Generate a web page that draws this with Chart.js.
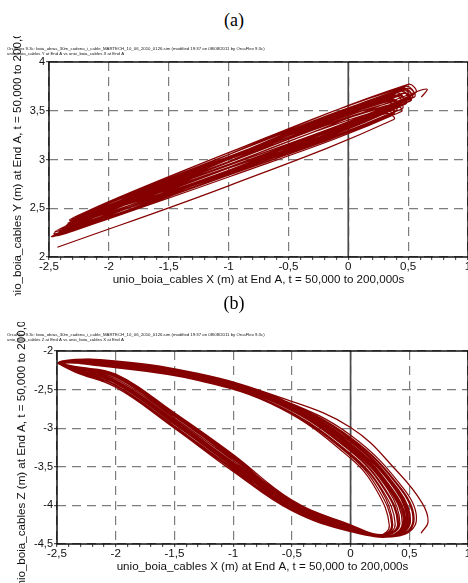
<!DOCTYPE html>
<html>
<head>
<meta charset="utf-8">
<script src="https://cdn.jsdelivr.net/npm/chart.js@4"></script>
<style>
  html, body { margin: 0; padding: 0; background: #fff; width: 468px; height: 583px; overflow: hidden; }
  .box { position: absolute; left: 0; width: 480px; }
  .lbl { position: absolute; left: 0; width: 468px; text-align: center; line-height: 20px;
         font-family: "Liberation Serif", "Times New Roman", serif; font-size: 18px; color: #000; }
</style>
</head>
<body>
<div class="box" style="top:36px;height:260px"><canvas id="chartA"></canvas></div>
<div class="box" style="top:322px;height:261px"><canvas id="chartB"></canvas></div>
<div class="lbl" style="top:10px">(a)</div>
<div class="lbl" style="top:293px">(b)</div>
<script>
// x ticks (shared by both panels)
const xTickVals = [-2.5, -2, -1.5, -1, -0.5, 0, 0.5, 1];
const xTickLabels = ['-2,5', '-2', '-1,5', '-1', '-0,5', '0', '0,5', '1'];

// panel (a): Y vs X at End A
const yTickValsA = [2, 2.5, 3, 3.5, 4];
const yTickLabelsA = ['2', '2,5', '3', '3,5', '4'];
const xA = [
  -2.43, -1.0, 0.38, 0.31, -1.0,
  -2.47, -1.0, 0.44, 0.37, -1.0,
  -2.40, -1.0, 0.50, 0.44, -1.0,
  -2.33, -1.0, 0.36, 0.30, -1.0,
  -2.44, -1.0, 0.54, 0.48, -1.0,
  -2.28, -1.0, 0.42, 0.36, -1.0,
  -2.36, -1.0, 0.52, 0.47, -1.0,
  -2.45, -1.0, 0.47, 0.41, -1.0,
  -2.30, -1.0, 0.56, 0.50, -1.0,
  -2.38, -1.0, 0.40, 0.34, -1.0,
  -2.25, -1.0, 0.50, 0.45, -1.0,
  -2.42, -1.0, 0.45, 0.39, -1.0,
  -2.34, -1.0, 0.53, 0.47, -1.0,
  -2.46, -1.0, 0.38, 0.33, -1.0,
  -2.40, -1.0, 0.48, 0.42, -1.0,
  -2.27, -1.0, 0.44, 0.38, -1.0,
  -2.44, -1.0, 0.51, 0.45, -1.0,
  -2.35, -1.0, 0.41, 0.35, -1.0,
  -2.48, -1.0, 0.55, 0.49, -1.0,
  -2.29, -1.0, 0.46, 0.40, -1.0,
  -2.39, -1.0, 0.37, 0.31, -1.0,
  -2.32, -1.0, 0.52, 0.46, -1.0,
  -2.43, -1.0, 0.43, 0.37, -1.0,
  -2.26, -1.0, 0.49, 0.44, -1.0,
  -2.31, -1.0, 0.58, 0.66, 0.61
];
const yA = [
  2.10, 2.73, 3.41, 3.47, 2.91,
  2.21, 2.82, 3.49, 3.57, 2.97,
  2.27, 2.88, 3.62, 3.70, 3.05,
  2.38, 2.87, 3.45, 3.52, 2.95,
  2.24, 2.89, 3.66, 3.75, 3.07,
  2.40, 2.91, 3.55, 3.62, 3.01,
  2.32, 2.89, 3.60, 3.68, 3.00,
  2.26, 2.88, 3.58, 3.66, 3.02,
  2.36, 2.92, 3.68, 3.77, 3.05,
  2.30, 2.86, 3.50, 3.58, 3.02,
  2.42, 2.94, 3.64, 3.72, 3.02,
  2.25, 2.84, 3.52, 3.60, 3.00,
  2.35, 2.91, 3.63, 3.71, 3.01,
  2.24, 2.84, 3.47, 3.55, 2.98,
  2.29, 2.87, 3.57, 3.65, 3.03,
  2.41, 2.92, 3.58, 3.66, 3.00,
  2.22, 2.85, 3.60, 3.68, 3.02,
  2.33, 2.88, 3.53, 3.61, 2.98,
  2.21, 2.87, 3.64, 3.73, 3.05,
  2.38, 2.91, 3.60, 3.68, 3.02,
  2.28, 2.84, 3.48, 3.55, 3.00,
  2.37, 2.92, 3.65, 3.73, 3.02,
  2.24, 2.85, 3.54, 3.61, 3.02,
  2.41, 2.92, 3.62, 3.70, 3.05,
  2.39, 2.95, 3.70, 3.72, 3.64
];

// panel (b): Z vs X at End A
const yTickValsB = [-4.5, -4, -3.5, -3, -2.5, -2];
const yTickLabelsB = ['-4,5', '-4', '-3,5', '-3', '-2,5', '-2'];
const xB = [
  -2.48, -2.15, -1.3, -0.6, 0, 0.36, 0.47, 0.35, 0, -0.5, -1.0, -1.5, -2.0, -2.35,
  -2.47, -2.15, -1.3, -0.6, 0, 0.44, 0.54, 0.40, 0, -0.5, -1.0, -1.5, -2.0, -2.35,
  -2.49, -2.15, -1.3, -0.6, 0, 0.29, 0.40, 0.30, 0, -0.5, -1.0, -1.5, -2.0, -2.35,
  -2.48, -2.15, -1.3, -0.6, 0, 0.46, 0.56, 0.42, 0, -0.5, -1.0, -1.5, -2.0, -2.35,
  -2.47, -2.15, -1.3, -0.6, 0, 0.34, 0.45, 0.33, 0, -0.5, -1.0, -1.5, -2.0, -2.35,
  -2.48, -2.15, -1.3, -0.6, 0, 0.24, 0.35, 0.27, 0, -0.5, -1.0, -1.5, -2.0, -2.35,
  -2.49, -2.15, -1.3, -0.6, 0, 0.41, 0.51, 0.38, 0, -0.5, -1.0, -1.5, -2.0, -2.35,
  -2.48, -2.15, -1.3, -0.6, 0, 0.32, 0.42, 0.32, 0, -0.5, -1.0, -1.5, -2.0, -2.35,
  -2.47, -2.15, -1.3, -0.6, 0, 0.39, 0.49, 0.37, 0, -0.5, -1.0, -1.5, -2.0, -2.35,
  -2.48, -2.15, -1.3, -0.6, 0, 0.22, 0.33, 0.25, 0, -0.5, -1.0, -1.5, -2.0, -2.35,
  -2.48, -2.15, -1.3, -0.6, 0, 0.38, 0.48, 0.36, 0, -0.5, -1.0, -1.5, -2.0, -2.35,
  -2.48, -2.15, -1.3, -0.6, 0, 0.27, 0.38, 0.29, 0, -0.5, -1.0, -1.5, -2.0, -2.35,
  -2.48, -2.15, -1.3, -0.6, 0, 0.43, 0.53, 0.39, 0, -0.5, -1.0, -1.5, -2.0, -2.35,
  -2.47, -2.15, -1.3, -0.6, 0, 0.33, 0.44, 0.33, 0, -0.5, -1.0, -1.5, -2.0, -2.35,
  -2.48, -2.15, -1.3, -0.6, 0, 0.40, 0.50, 0.37, 0, -0.5, -1.0, -1.5, -2.0, -2.35,
  -2.49, -2.15, -1.3, -0.6, 0, 0.26, 0.36, 0.28, 0, -0.5, -1.0, -1.5, -2.0, -2.35,
  -2.48, -2.15, -1.3, -0.6, 0, 0.35, 0.46, 0.34, 0, -0.5, -1.0, -1.5, -2.0, -2.35,
  -2.47, -2.15, -1.3, -0.6, 0, 0.30, 0.41, 0.31, 0, -0.5, -1.0, -1.5, -2.0, -2.35,
  -2.48, -2.13, -1.3, -0.6, 0, 0.41, 0.61, 0.66, 0.60
];
const yB = [
  -2.15, -2.14, -2.33, -2.67, -3.21, -3.80, -4.22, -4.39, -4.30, -4.00, -3.46, -2.92, -2.40, -2.23,
  -2.16, -2.12, -2.30, -2.63, -3.12, -3.80, -4.21, -4.40, -4.33, -4.06, -3.54, -2.99, -2.45, -2.26,
  -2.15, -2.16, -2.35, -2.70, -3.30, -3.80, -4.24, -4.38, -4.27, -3.95, -3.36, -2.81, -2.31, -2.20,
  -2.14, -2.11, -2.29, -2.62, -3.09, -3.80, -4.20, -4.39, -4.32, -4.04, -3.50, -2.95, -2.42, -2.24,
  -2.15, -2.13, -2.34, -2.68, -3.24, -3.80, -4.23, -4.39, -4.29, -3.98, -3.42, -2.87, -2.36, -2.22,
  -2.16, -2.18, -2.37, -2.73, -3.36, -3.80, -4.25, -4.38, -4.26, -3.93, -3.34, -2.80, -2.30, -2.20,
  -2.15, -2.12, -2.31, -2.64, -3.15, -3.80, -4.21, -4.40, -4.34, -4.07, -3.56, -3.00, -2.47, -2.27,
  -2.15, -2.15, -2.35, -2.69, -3.27, -3.80, -4.23, -4.38, -4.28, -3.97, -3.40, -2.85, -2.34, -2.21,
  -2.14, -2.13, -2.32, -2.66, -3.18, -3.80, -4.22, -4.40, -4.31, -4.02, -3.48, -2.93, -2.40, -2.24,
  -2.15, -2.19, -2.38, -2.74, -3.39, -3.80, -4.26, -4.38, -4.25, -3.94, -3.38, -2.83, -2.33, -2.21,
  -2.15, -2.13, -2.32, -2.66, -3.20, -3.80, -4.22, -4.39, -4.30, -4.01, -3.52, -2.97, -2.44, -2.25,
  -2.15, -2.17, -2.36, -2.72, -3.33, -3.80, -4.24, -4.38, -4.27, -3.96, -3.44, -2.89, -2.38, -2.23,
  -2.15, -2.12, -2.30, -2.63, -3.13, -3.80, -4.21, -4.40, -4.33, -4.05, -3.53, -2.98, -2.45, -2.26,
  -2.15, -2.14, -2.34, -2.68, -3.25, -3.80, -4.23, -4.39, -4.29, -3.99, -3.45, -2.90, -2.39, -2.23,
  -2.14, -2.13, -2.31, -2.65, -3.17, -3.80, -4.22, -4.40, -4.32, -4.03, -3.50, -2.94, -2.41, -2.24,
  -2.16, -2.18, -2.37, -2.73, -3.35, -3.80, -4.25, -4.38, -4.26, -3.94, -3.37, -2.82, -2.32, -2.20,
  -2.15, -2.14, -2.33, -2.67, -3.23, -3.80, -4.22, -4.39, -4.30, -4.00, -3.47, -2.92, -2.41, -2.24,
  -2.15, -2.16, -2.35, -2.70, -3.29, -3.80, -4.24, -4.38, -4.28, -3.96, -3.39, -2.84, -2.33, -2.21,
  -2.15, -2.11, -2.29, -2.60, -2.99, -3.58, -3.97, -4.21, -4.36
];

const headerA = [
  'OrcaFlex 9.3c: boia_obras_30m_cadena_i_cable_MARTECH_10_06_2010_0126.sim (modified 19:37 on 08/08/2011 by OrcaFlex 9.3c)',
  'unio_boia_cables Y at End A vs unio_boia_cables X at End A'
];
const headerB = [
  'OrcaFlex 9.3c: boia_obras_30m_cadena_i_cable_MARTECH_10_06_2010_0126.sim (modified 19:37 on 08/08/2011 by OrcaFlex 9.3c)',
  'unio_boia_cables Z at End A vs unio_boia_cables X at End A'
];

const FONT = '"Liberation Sans", Arial, sans-serif';
const RED = '#850000';

function majorIndex(v) {
  return xTickVals.findIndex(t => Math.abs(t - v) < 1e-6);
}

// frame, zero line and the small OrcaFlex header
const framePlugin = {
  id: 'frame',
  beforeDatasetsDraw(chart) {
    const {ctx, chartArea: a, scales: {x}} = chart;
    const zx = x.getPixelForValue(0);
    ctx.save();
    ctx.strokeStyle = '#4a4a4a';
    ctx.lineWidth = 1.7;
    ctx.beginPath();
    ctx.moveTo(zx, a.top);
    ctx.lineTo(zx, a.bottom);
    ctx.stroke();
    ctx.restore();
  },
  afterDraw(chart, args, opts) {
    const {ctx, chartArea: a} = chart;
    ctx.save();
    ctx.strokeStyle = '#000';
    ctx.lineWidth = 1.4;
    ctx.strokeRect(a.left, a.top, a.right - a.left, a.bottom - a.top);
    ctx.fillStyle = '#111';
    ctx.font = '4.3px ' + FONT;
    ctx.textBaseline = 'middle';
    opts.header.forEach((t, i) => ctx.fillText(t, 7, opts.headerY + i * 4.8));
    ctx.restore();
  }
};

function makeChart(id, xs, ys, cfg) {
  const pts = xs.map((x, i) => ({x: x, y: ys[i]}));
  return new Chart(document.getElementById(id), {
    type: 'scatter',
    data: {
      datasets: [{
        data: pts,
        showLine: true,
        borderColor: RED,
        borderWidth: 1.2,
        pointRadius: 0,
        tension: 0.4
      }]
    },
    options: {
      responsive: true,
      maintainAspectRatio: false,
      animation: false,
      layout: { padding: { top: cfg.top, right: 12, bottom: 0, left: 0 } },
      scales: {
        x: {
          type: 'linear',
          min: -2.5,
          max: 1,
          afterBuildTicks: s => {
            const t = [];
            for (let k = 0; k <= 35; k++) t.push({value: Math.round((-2.5 + k * 0.1) * 10) / 10});
            s.ticks = t;
          },
          afterFit: s => { s.height = 39; },
          ticks: {
            autoSkip: false,
            maxRotation: 0,
            padding: 0,
            color: '#111',
            font: { family: FONT, size: 11.6 },
            callback: v => { const i = majorIndex(v); return i < 0 ? '' : xTickLabels[i]; }
          },
          grid: {
            color: c => (c.tick && majorIndex(c.tick.value) >= 0) ? '#7d7d7d' : 'rgba(0,0,0,0)',
            lineWidth: 1.2,
            tickColor: '#555',
            tickLength: 3
          },
          border: { display: false, dash: [9, 6] },
          title: {
            display: true,
            text: 'unio_boia_cables X (m) at End A, t = 50,000 to 200,000s',
            color: '#111',
            font: { family: FONT, size: 11.6 },
            padding: { top: 0, bottom: cfg.xTitlePad }
          }
        },
        y: {
          type: 'linear',
          min: cfg.yMin,
          max: cfg.yMax,
          afterBuildTicks: s => { s.ticks = cfg.yVals.map(v => ({value: v})); },
          afterFit: s => { s.width = cfg.yWidth; },
          ticks: {
            padding: 1,
            color: '#111',
            font: { family: FONT, size: 11 },
            callback: (v, i) => cfg.yLabels[i]
          },
          grid: { color: '#7d7d7d', lineWidth: 1.2, tickColor: '#555', tickLength: 3 },
          border: { display: false, dash: [9, 6] },
          title: {
            display: true,
            text: cfg.yTitle,
            color: '#111',
            font: { family: FONT, size: 11.6 },
            padding: { top: cfg.yTitlePad, bottom: 0 }
          }
        }
      },
      plugins: {
        legend: { display: false },
        tooltip: { enabled: false },
        frame: { header: cfg.header, headerY: 13 }
      }
    },
    plugins: [framePlugin]
  });
}

makeChart('chartA', xA, yA, {
  top: 26, yMin: 2, yMax: 4, yVals: yTickValsA, yLabels: yTickLabelsA, yWidth: 49,
  yTitle: 'unio_boia_cables Y (m) at End A, t = 50,000 to 200,000s', yTitlePad: 11,
  xTitlePad: 9.5, header: headerA
});
makeChart('chartB', xB, yB, {
  top: 29, yMin: -4.5, yMax: -2, yVals: yTickValsB, yLabels: yTickLabelsB, yWidth: 57,
  yTitle: 'unio_boia_cables Z (m) at End A, t = 50,000 to 200,000s', yTitlePad: 15,
  xTitlePad: 9.3, header: headerB
});
</script>
</body>
</html>
